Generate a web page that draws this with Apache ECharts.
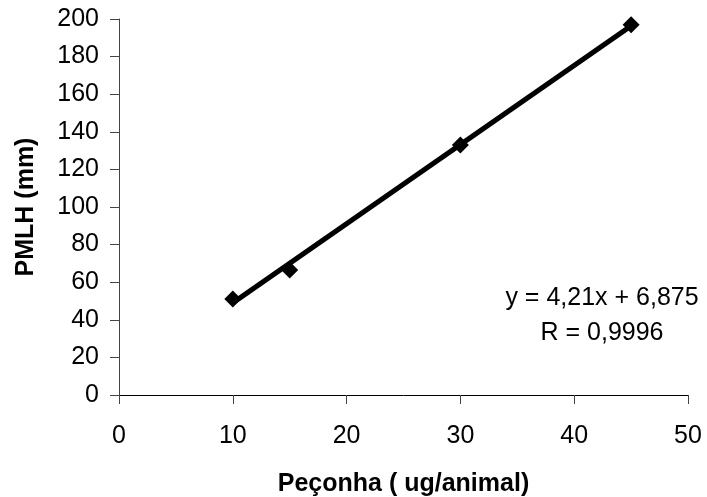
<!DOCTYPE html>
<html><head><meta charset="utf-8">
<script src="https://cdn.jsdelivr.net/npm/echarts@6/dist/echarts.min.js"></script>
<style>html,body{margin:0;padding:0;background:#fff}#c{width:707px;height:497px}</style>
</head><body><div id="c"></div>
<script>
const doseX = [10, 15, 30, 45];
const pmlhY = [51, 66.5, 133, 197];
const trendX = [10, 45];
const trendY = [48.975, 196.325];
const eqLines = ['y = 4,21x + 6,875', 'R = 0,9996'];
const xName = 'Peçonha ( ug/animal)';
const yName = 'PMLH (mm)';

const chart = echarts.init(document.getElementById('c'));
const font = 'Liberation Sans, Arial, sans-serif';
chart.setOption({
  animation: false,
  grid: {left: 119, right: 19, top: 19, bottom: 102, containLabel: false, outerBoundsMode: 'none'},
  xAxis: {
    type: 'value', min: 0, max: 50, interval: 10,
    name: xName, nameLocation: 'middle', nameGap: 77,
    nameTextStyle: {fontFamily: font, fontSize: 25, fontWeight: 'bold', color: '#000'},
    axisLine: {show: true, onZero: false, lineStyle: {color: '#000', width: 1}},
    axisTick: {show: true, inside: false, length: 9, lineStyle: {color: '#444'}},
    axisLabel: {fontFamily: font, fontSize: 25, color: '#000', margin: 29},
    splitLine: {show: false}
  },
  yAxis: {
    type: 'value', min: 0, max: 200, interval: 20,
    name: yName, nameLocation: 'middle', nameGap: 80, nameRotate: 90,
    nameTextStyle: {fontFamily: font, fontSize: 25, fontWeight: 'bold', color: '#000'},
    axisLine: {show: true, lineStyle: {color: '#444', width: 1}},
    axisTick: {show: true, inside: false, length: 9, lineStyle: {color: '#444'}},
    axisLabel: {fontFamily: font, fontSize: 25, color: '#000', margin: 20},
    splitLine: {show: false}
  },
  series: [
    {
      type: 'line', data: trendX.map((x, i) => [x, trendY[i]]),
      showSymbol: false, symbol: 'none',
      lineStyle: {color: '#000', width: 5}, z: 2
    },
    {
      type: 'scatter', data: doseX.map((x, i) => [x, pmlhY[i]]),
      symbol: 'diamond', symbolSize: [17, 17],
      itemStyle: {color: '#000', opacity: 1}, z: 3
    }
  ],
  graphic: eqLines.map((t, i) => ({
    type: 'text', z: 10,
    style: {
      text: t, x: 602, y: 298 + i * 35, fontFamily: font, fontSize: 25, fill: '#000',
      align: 'center', verticalAlign: 'middle'
    }
  }))
});
</script></body></html>
